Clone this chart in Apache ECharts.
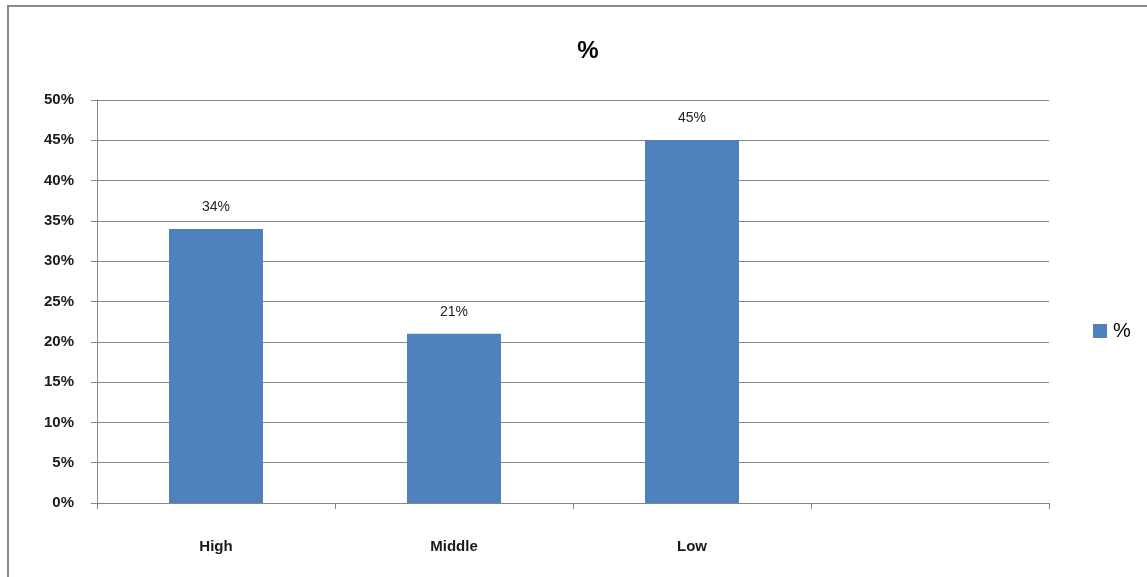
<!DOCTYPE html>
<html>
<head>
<meta charset="utf-8">
<script src="https://cdn.jsdelivr.net/npm/echarts@6/dist/echarts.min.js"></script>
<style>
html,body{margin:0;padding:0;background:#fff;}
#chart{width:1147px;height:577px;}
</style>
</head>
<body>
<div id="chart"></div>
<script>
var categories = ['High', 'Middle', 'Low', ''];
var values = [34, 21, 45, null];
var seriesName = '%';
var titleText = '%';

var chart = echarts.init(document.getElementById('chart'));
var font = '"Liberation Sans", Arial, sans-serif';
chart.setOption({
  animation: false,
  graphic: [{
    type: 'rect',
    shape: {x: 8, y: 6, width: 1160, height: 600},
    style: {fill: 'none', stroke: '#8a8a8a', lineWidth: 2},
    silent: true
  }],
  title: {
    text: titleText, left: 583, top: 34, textAlign: 'center',
    textStyle: {fontFamily: font, fontSize: 24, fontWeight: 'bold', color: '#000'}
  },
  legend: {
    data: [seriesName], left: 1088, top: 316, orient: 'vertical',
    itemWidth: 14, itemHeight: 14, itemGap: 5,
    textStyle: {fontFamily: font, fontSize: 20, color: '#000', padding: [0,0,0,1]},
    icon: 'rect'
  },
  grid: {left: 97, right: 98, top: 100, bottom: 74},
  xAxis: {
    type: 'category', data: categories,
    axisLine: {lineStyle: {color: '#868686', width: 1}},
    axisTick: {show: true, length: 6, alignWithLabel: false, lineStyle: {color: '#868686'}},
    axisLabel: {margin: 36, fontFamily: font, fontSize: 15, fontWeight: 'bold', color: '#1a1a1a'}
  },
  yAxis: {
    type: 'value', min: 0, max: 50, interval: 5,
    axisLine: {show: true, lineStyle: {color: '#868686'}},
    axisTick: {show: true, length: 6, lineStyle: {color: '#868686'}},
    axisLabel: {formatter: '{value}%', margin: 23, fontFamily: font, fontSize: 15, fontWeight: 'bold', color: '#1a1a1a'},
    splitLine: {lineStyle: {color: '#868686', width: 1}}
  },
  series: [{
    name: seriesName, type: 'bar', data: values, barWidth: 94,
    itemStyle: {color: '#4F81BD'},
    label: {show: true, position: 'top', distance: 15, formatter: '{c}%',
      fontFamily: font, fontSize: 14, color: '#222'}
  }]
});
</script>
</body>
</html>
